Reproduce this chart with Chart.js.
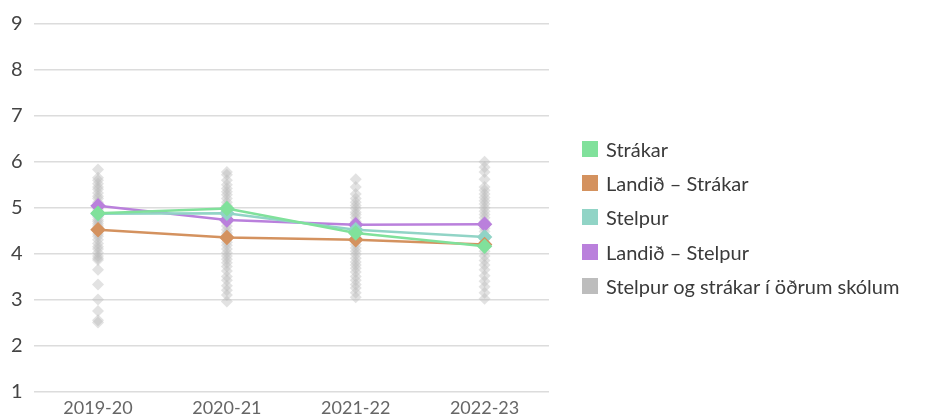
<!DOCTYPE html>
<html>
<head>
<meta charset="utf-8">
<script src="https://cdn.jsdelivr.net/npm/chart.js@4"></script>
<style>
  html, body { margin: 0; padding: 0; background: #fff; }
  #wrap { position: relative; width: 926px; height: 418px; }
  #skyring { position: absolute; left: 582px; top: 132px; margin: 0; padding: 0; list-style: none;
    font-family: Lato, sans-serif; font-size: 20px; color: #3a3a3a; }
  #skyring li { height: 34.2px; display: flex; align-items: center; white-space: nowrap; }
  #skyring span.kassi { display: inline-block; width: 16px; height: 16px; margin-right: 8px; }
</style>
</head>
<body>
<div id="wrap"><canvas id="graf"></canvas><ul id="skyring"></ul></div>
<script>
var years = ['2019-20', '2020-21', '2021-22', '2022-23'];

var strakar = [4.88, 4.98, 4.45, 4.16];
var landidStrakar = [4.52, 4.35, 4.30, 4.20];
var stelpur = [4.87, 4.88, 4.52, 4.36];
var landidStelpur = [5.04, 4.73, 4.63, 4.64];

// adrir skolar, eitt gildi fyrir hvern skola
var adrir1920 = [5.83, 5.65, 5.6, 5.52, 5.45, 5.4, 5.32, 5.25, 5.2, 5.12, 5.05, 5.0, 4.95, 4.9, 4.85, 4.8, 4.74, 4.7,
  4.65, 4.6, 4.55, 4.48, 4.43, 4.38, 4.3, 4.22, 4.15, 4.1, 4.02, 3.95, 3.9, 3.86, 3.65, 3.33, 3.0, 2.75, 2.55, 2.5];
var adrir2021 = [5.78, 5.72, 5.6, 5.5, 5.42, 5.35, 5.28, 5.2, 5.12, 5.05, 4.98, 4.9, 4.82, 4.75, 4.68, 4.6, 4.52,
  4.45, 4.4, 4.32, 4.25, 4.18, 4.1, 4.02, 3.95, 3.88, 3.8, 3.72, 3.62, 3.5, 3.42, 3.3, 3.2, 3.1, 2.96];
var adrir2122 = [5.62, 5.45, 5.3, 5.2, 5.12, 5.05, 4.98, 4.9, 4.85, 4.78, 4.7, 4.62, 4.55, 4.5, 4.42, 4.35, 4.28,
  4.2, 4.12, 4.05, 3.98, 3.9, 3.82, 3.75, 3.68, 3.6, 3.5, 3.42, 3.33, 3.25, 3.15, 3.05];
var adrir2223 = [6.0, 5.88, 5.78, 5.62, 5.45, 5.38, 5.3, 5.22, 5.15, 5.08, 5.0, 4.92, 4.85, 4.78, 4.7, 4.62, 4.55,
  4.48, 4.4, 4.32, 4.25, 4.15, 4.05, 3.95, 3.85, 3.75, 3.65, 3.52, 3.4, 3.28, 3.15, 3.02];

var adrir = [];
[adrir1920, adrir2021, adrir2122, adrir2223].forEach(function (arr, i) {
  arr.forEach(function (v) { adrir.push({ x: years[i], y: v }); });
});

function lina(label, data, color) {
  return {
    label: label,
    data: data,
    borderColor: color,
    backgroundColor: color,
    pointBackgroundColor: color,
    pointBorderColor: color,
    pointStyle: 'rectRot',
    pointRadius: 6,
    borderWidth: 2.5,
    tension: 0,
    order: 1
  };
}

var ctx = document.getElementById('graf').getContext('2d');
var chart = new Chart(ctx, {
  type: 'line',
  data: {
    labels: years,
    datasets: [
      lina('Strákar', strakar, '#80e19b'),
      lina('Landið – Strákar', landidStrakar, '#d4925f'),
      lina('Stelpur', stelpur, '#91d4c6'),
      lina('Landið – Stelpur', landidStelpur, '#ba80dc'),
      {
        label: 'Stelpur og strákar í öðrum skólum',
        data: adrir,
        showLine: false,
        borderColor: '#bdbdbd',
        backgroundColor: '#bdbdbd',
        pointBackgroundColor: 'rgba(185,185,185,0.42)',
        pointBorderColor: 'rgba(185,185,185,0)',
        pointStyle: 'rectRot',
        pointRadius: 6,
        order: 10
      }
    ]
  },
  options: {
    responsive: true,
    maintainAspectRatio: false,
    animation: false,
    layout: { padding: { top: 24, right: 377, left: 0, bottom: -7 } },
    plugins: {
      tooltip: { enabled: false },
      legend: { display: false }
    },
    scales: {
      x: {
        offset: true,
        grid: { display: false, drawTicks: false },
        border: { display: false },
        ticks: { color: '#666', font: { family: 'Lato', size: 18 }, padding: 6 }
      },
      y: {
        min: 1,
        max: 9,
        ticks: { stepSize: 1, color: '#444', font: { family: 'Lato', size: 20 }, padding: 11 },
        grid: { color: '#dcdcdc', lineWidth: 1.5, drawTicks: false },
        border: { display: false }
      }
    }
  }
});

// skyringar
var ul = document.getElementById('skyring');
chart.data.datasets.forEach(function (ds) {
  var li = document.createElement('li');
  var k = document.createElement('span');
  k.className = 'kassi';
  k.style.background = ds.backgroundColor;
  li.appendChild(k);
  li.appendChild(document.createTextNode(ds.label));
  ul.appendChild(li);
});
</script>
</body>
</html>
